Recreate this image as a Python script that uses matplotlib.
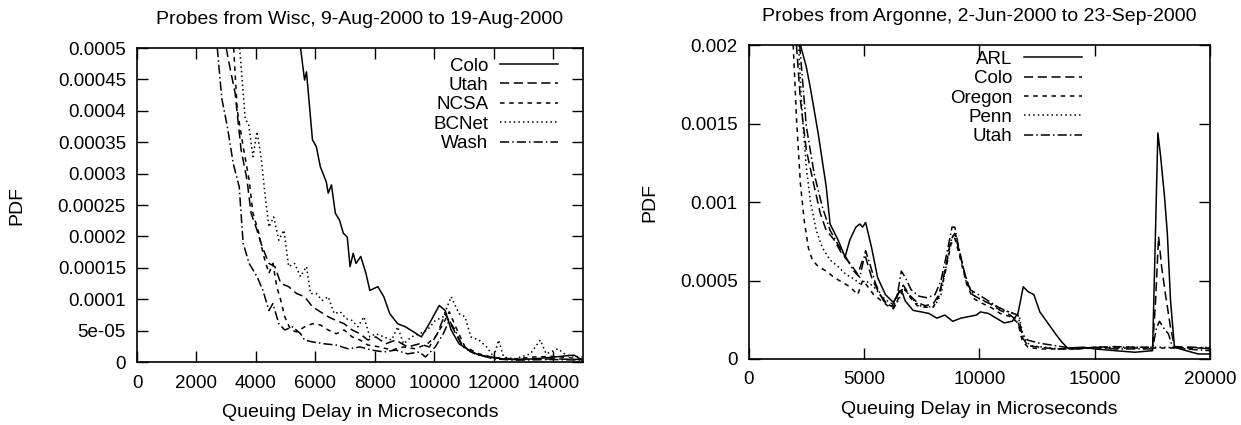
import matplotlib
matplotlib.use("Agg")
import matplotlib.pyplot as plt

plt.rcParams['font.family'] = ['Liberation Sans', 'DejaVu Sans']

# ---- left panel: probes from Wisc ----
wisc_colo_x = [5500, 5635, 5700, 5900, 6030, 6165, 6365, 6430, 6540, 6670, 6810, 6940, 7070, 7165,
               7270, 7365, 7525, 7700, 7830, 8100, 8300, 8500, 8765, 9030, 9300, 9565, 9830, 10165,
               10365, 10565, 10830, 11160, 11500, 11900, 12300, 12700, 13360, 14030, 14700, 14960]
wisc_colo_y = [0.0005, 0.000449, 0.000462, 0.000354, 0.000343, 0.000311, 0.000287, 0.000269, 0.000282,
               0.000237, 0.000226, 0.000205, 0.000199, 0.000152, 0.000173, 0.000157, 0.000168, 0.000141,
               0.000114, 0.000120, 0.000104, 0.000077, 0.000061, 0.000056, 0.000048, 0.000040, 0.000061,
               0.000090, 0.000082, 0.000051, 0.000029, 0.000019, 0.000011, 0.000008, 0.000005, 0.000004,
               0.000005, 0.000008, 0.000011, 0.000003]

wisc_utah_x = [3000, 3100, 3300, 3500, 3700, 3836, 4036, 4170, 4300, 4436, 4636, 4836, 5100, 5370,
               5635, 5900, 6165, 6430, 6700, 6965, 7235, 7500, 7765, 8030, 8365, 8700, 9100, 9500,
               9830, 10100, 10365, 10630, 10900, 11230, 11760, 12700, 14030, 14960]
wisc_utah_y = [0.0005, 0.000475, 0.000428, 0.000338, 0.00029, 0.000237, 0.00021, 0.000189, 0.000173,
               0.000157, 0.000152, 0.000125, 0.00012, 0.000109, 0.000104, 0.000088, 0.00008, 0.000072,
               0.000066, 0.000061, 0.000051, 0.000045, 0.000035, 0.00004, 0.000029, 0.000035, 0.000024,
               0.000029, 0.000024, 0.000045, 0.000077, 0.000053, 0.000029, 0.000016, 0.000008, 0.000004,
               0.000005, 0.000004]

wisc_ncsa_x = [3250, 3370, 3570, 3770, 3900, 4100, 4236, 4436, 4570, 4700, 4836, 4970, 5170, 5370,
               5635, 5900, 6165, 6430, 6700, 6965, 7235, 7500, 7765, 8165, 8565, 8965, 9365, 9765,
               10030, 10300, 10500, 10765, 11030, 11500, 12000, 12700, 13360, 14030, 14960]
wisc_ncsa_y = [0.0005, 0.000402, 0.000343, 0.00029, 0.000237, 0.000205, 0.000173, 0.000141, 0.000157,
               0.00012, 0.000098, 0.000072, 0.000051, 0.000048, 0.000056, 0.000061, 0.000059, 0.000051,
               0.000045, 0.000051, 0.00004, 0.000035, 0.000027, 0.000024, 0.000019, 0.000024, 0.000021,
               0.000029, 0.00004, 0.000061, 0.00008, 0.000051, 0.000024, 0.000013, 0.000007, 0.000005,
               0.000008, 0.000009, 0.000005]

wisc_bcnet_x = [3450, 3520, 3640, 3750, 3900, 4036, 4170, 4300, 4436, 4596, 4770, 4940, 5100, 5300,
                5500, 5700, 5835, 6030, 6230, 6430, 6630, 6835, 7035, 7235, 7430, 7630, 7830, 8030,
                8300, 8565, 8765, 8965, 9230, 9500, 9765, 10030, 10300, 10565, 10830, 11030, 11230,
                11500, 11760, 12000, 12160, 12330, 12700, 13230, 13560, 13760, 14160, 14430, 14960]
wisc_bcnet_y = [0.0005, 0.00046, 0.000386, 0.00038, 0.000327, 0.000367, 0.000327, 0.000269, 0.000215,
                0.000231, 0.000194, 0.00021, 0.000152, 0.000157, 0.000136, 0.000152, 0.000109, 0.000109,
                0.000098, 0.000104, 0.000077, 0.00008, 0.000069, 0.000066, 0.000056, 0.000072, 0.00004,
                0.000045, 0.00004, 0.000035, 0.000056, 0.000029, 0.00004, 0.000045, 0.000051, 0.000066,
                0.000072, 0.000104, 0.000077, 0.000072, 0.00004, 0.000035, 0.000024, 0.000008, 0.000035,
                0.000008, 0.000005, 0.000013, 0.000035, 0.000013, 0.000021, 0.000011, 0.000008]

wisc_wash_x = [2700, 2850, 3037, 3237, 3437, 3570, 3770, 4036, 4236, 4436, 4570, 4770, 4970, 5235,
               5500, 5635, 5900, 6300, 6700, 7100, 7500, 7900, 8300, 8700, 9100, 9500, 9700, 10030,
               10300, 10500, 10700, 10960, 11360, 12000, 12700, 14030, 14960]
wisc_wash_y = [0.0005, 0.00042, 0.000375, 0.000316, 0.000279, 0.000189, 0.000157, 0.000136, 0.000114,
               0.000082, 0.000093, 0.000061, 0.000051, 0.000056, 0.000045, 0.000035, 0.000032, 0.000029,
               0.000027, 0.000021, 0.000024, 0.000019, 0.000016, 0.000019, 0.000013, 0.000016, 0.000008,
               0.000024, 0.000045, 0.000066, 0.000051, 0.000024, 0.000013, 0.000005, 0.000003, 0.000004,
               0.000003]

wisc_labels = ['Colo', 'Utah', 'NCSA', 'BCNet', 'Wash']
wisc_xticks = [0, 2000, 4000, 6000, 8000, 10000, 12000, 14000]
wisc_yticks = [0, 0.00005, 0.0001, 0.00015, 0.0002, 0.00025, 0.0003, 0.00035, 0.0004, 0.00045, 0.0005]
wisc_ytick_labels = ['0', '5e-05', '0.0001', '0.00015', '0.0002', '0.00025', '0.0003', '0.00035',
                     '0.0004', '0.00045', '0.0005']

# ---- right panel: probes from Argonne ----
arg_arl_x = [2232, 2490, 2660, 3000, 3350, 3520, 3860, 4170, 4380, 4640, 4810, 4930, 5060, 5320,
             5580, 5920, 6270, 6440, 6610, 6780, 7120, 7470, 7810, 8150, 8500, 8840, 9190, 9530,
             9870, 10040, 10390, 10730, 11070, 11420, 11670, 11900, 12100, 12360, 12620, 12960,
             13300, 13560, 13820, 14500, 15020, 15880, 16740, 17510, 17600, 17740, 17860, 18030,
             18150, 18290, 18460, 18970, 19490, 20000]
arg_arl_y = [0.002, 0.00186, 0.00173, 0.00144, 0.0011, 0.00086, 0.00076, 0.00065, 0.00076, 0.00084,
             0.00086, 0.00084, 0.00087, 0.00071, 0.00052, 0.00041, 0.00036, 0.00041, 0.00044, 0.00037,
             0.00031, 0.0003, 0.00029, 0.00026, 0.00028, 0.00024, 0.00026, 0.00027, 0.00028, 0.0003,
             0.00029, 0.00026, 0.00023, 0.00024, 0.00029, 0.00046, 0.00043, 0.00041, 0.0003, 0.00023,
             0.00016, 0.00011, 0.00007, 0.000075, 0.000064, 0.000053, 0.000043, 0.000053, 0.00059,
             0.00144, 0.00129, 0.00103, 0.0008, 0.00037, 0.000075, 0.000053, 0.000032, 0.000032]

arg_colo_x = [2060, 2232, 2490, 2830, 3090, 3350, 3690, 4030, 4380, 4720, 4930, 5060, 5320, 5670,
              6010, 6270, 6530, 6700, 6950, 7300, 7640, 7990, 8240, 8500, 8760, 8930, 9150, 9440,
              9700, 10040, 10480, 10900, 11330, 11670, 11850, 12100, 12620, 13300, 14160, 15020,
              15880, 16740, 17510, 17640, 17770, 17900, 18070, 18290, 18460, 19310, 20000]
arg_colo_y = [0.002, 0.00165, 0.00133, 0.0011, 0.00093, 0.00082, 0.00076, 0.00067, 0.00061, 0.00054,
              0.00063, 0.00065, 0.00052, 0.00041, 0.00035, 0.00033, 0.00044, 0.00047, 0.00041, 0.00036,
              0.00034, 0.00035, 0.00041, 0.00056, 0.00076, 0.0008, 0.00067, 0.0005, 0.00041, 0.00038,
              0.00035, 0.00031, 0.00028, 0.00024, 0.00014, 0.000085, 0.000075, 0.000064, 0.000064,
              0.000075, 0.000079, 0.000075, 0.000075, 0.00037, 0.00078, 0.00059, 0.00041, 0.0002,
              0.000079, 0.000075, 0.000064]

arg_oregon_x = [1920, 2060, 2230, 2400, 2575, 2750, 3000, 3350, 3690, 4030, 4380, 4720, 4930, 5060,
                5410, 5750, 6100, 6270, 6530, 6700, 6950, 7300, 7640, 7990, 8240, 8500, 8760, 8930,
                9150, 9440, 9700, 10040, 10480, 10900, 11330, 11670, 11850, 12100, 12620, 13300,
                14160, 15020, 16740, 17600, 18460, 20000]
arg_oregon_y = [0.002, 0.00154, 0.00112, 0.00088, 0.00071, 0.00063, 0.00059, 0.00056, 0.00052, 0.00049,
                0.00046, 0.00041, 0.0005, 0.00048, 0.00041, 0.00037, 0.00033, 0.00032, 0.0004, 0.00046,
                0.0004, 0.00034, 0.00033, 0.00033, 0.0004, 0.00054, 0.00073, 0.00077, 0.00065, 0.00048,
                0.00039, 0.00036, 0.00033, 0.00029, 0.00027, 0.00023, 0.00012, 0.000075, 0.000064,
                0.000064, 0.000064, 0.00007, 0.00007, 0.00007, 0.00007, 0.00007]

arg_penn_x = [2150, 2320, 2490, 2660, 2920, 3180, 3520, 3860, 4200, 4550, 4810, 5060, 5410, 5750,
              6100, 6350, 6610, 6780, 7040, 7380, 7730, 8070, 8330, 8580, 8810, 8980, 9190, 9440,
              9790, 10220, 10650, 11070, 11500, 11730, 11900, 12190, 12790, 13480, 14330, 15190,
              16050, 17080, 17940, 18800, 20000]
arg_penn_y = [0.002, 0.00154, 0.00122, 0.00101, 0.00082, 0.00071, 0.00063, 0.00059, 0.00054, 0.00051,
              0.00048, 0.0005, 0.00046, 0.0004, 0.00036, 0.00034, 0.00041, 0.00044, 0.00039, 0.00034,
              0.00033, 0.00034, 0.00041, 0.00061, 0.00078, 0.00079, 0.00065, 0.00048, 0.0004, 0.00037,
              0.00034, 0.00031, 0.00029, 0.00027, 0.00014, 0.000085, 0.000075, 0.000064, 0.00007,
              0.000075, 0.000075, 0.000075, 0.000075, 0.00007, 0.000075]

arg_utah_x = [2200, 2490, 2830, 3180, 3520, 3860, 4200, 4550, 4810, 5060, 5240, 5490, 5840, 6180,
              6440, 6610, 6780, 7040, 7380, 7730, 8070, 8330, 8580, 8810, 8930, 9100, 9360, 9610,
              9960, 10390, 10820, 11250, 11670, 11850, 12100, 12620, 13300, 14160, 15020, 15880,
              16740, 17510, 17680, 17810, 17980, 18200, 18370, 18970, 20000]
arg_utah_y = [0.002, 0.00148, 0.00118, 0.00097, 0.00082, 0.00073, 0.00065, 0.00056, 0.00052, 0.00069,
              0.00061, 0.00048, 0.00037, 0.00033, 0.00041, 0.00056, 0.00052, 0.00044, 0.0004, 0.00039,
              0.00041, 0.0005, 0.00067, 0.00084, 0.00084, 0.00071, 0.00054, 0.00044, 0.00041, 0.00037,
              0.00033, 0.0003, 0.00028, 0.00016, 0.00012, 0.0001, 0.000085, 0.000064, 0.000075,
              0.000064, 0.000064, 0.000064, 0.0002, 0.00024, 0.0002, 0.00016, 0.000075, 0.000064,
              0.000053]

arg_labels = ['ARL', 'Colo', 'Oregon', 'Penn', 'Utah']
arg_xticks = [0, 5000, 10000, 15000, 20000]
arg_yticks = [0, 0.0005, 0.001, 0.0015, 0.002]
arg_ytick_labels = ['0', '0.0005', '0.001', '0.0015', '0.002']

styles = ['-', (0, (6, 3)), (0, (3, 3)), (0, (1, 2)), (0, (6, 2, 1, 2))]


def style_axes(ax, title, xlim, ylim, xticks, yticks, ylabels, ylab_x, leg_anchor):
    ax.set_xlim(*xlim)
    ax.set_ylim(*ylim)
    ax.set_xticks(xticks)
    ax.set_xticklabels([str(t) for t in xticks])
    ax.set_yticks(yticks)
    ax.set_yticklabels(ylabels)
    ax.tick_params(axis='x', pad=9)
    ax.tick_params(axis='y', pad=8)
    ax.tick_params(direction='in', length=8, width=1, top=True, right=True,
                   labelsize=13.5, colors='black')
    ax.set_title(title, fontsize=14, pad=17)
    ax.set_xlabel('Queuing Delay in Microseconds', fontsize=14, labelpad=9)
    ax.set_ylabel('PDF', fontsize=14)
    ax.yaxis.set_label_coords(ylab_x, 0.5)
    for sp in ax.spines.values():
        sp.set_linewidth(1.2)
    ax.legend(loc='upper right', bbox_to_anchor=leg_anchor, markerfirst=False, frameon=False,
              fontsize=13.5, handlelength=3.1, labelspacing=0.12, handletextpad=0.6,
              borderaxespad=0, borderpad=0)


fig = plt.figure(figsize=(12.41, 4.25), dpi=100)

ax1 = fig.add_axes([0.1104, 0.1482, 0.3594, 0.7388])
wisc = [(wisc_colo_x, wisc_colo_y), (wisc_utah_x, wisc_utah_y), (wisc_ncsa_x, wisc_ncsa_y),
        (wisc_bcnet_x, wisc_bcnet_y), (wisc_wash_x, wisc_wash_y)]
for (xs, ys), lab, ls in zip(wisc, wisc_labels, styles):
    ax1.plot(xs, ys, color='black', linestyle=ls, linewidth=1.1, label=lab)
style_axes(ax1, 'Probes from Wisc, 9-Aug-2000 to 19-Aug-2000', (0, 15000), (0, 0.0005),
           wisc_xticks, wisc_yticks, wisc_ytick_labels, -0.251, (0.944, 0.970))

ax2 = fig.add_axes([0.6035, 0.1553, 0.3715, 0.7388])
arg = [(arg_arl_x, arg_arl_y), (arg_colo_x, arg_colo_y), (arg_oregon_x, arg_oregon_y),
       (arg_penn_x, arg_penn_y), (arg_utah_x, arg_utah_y)]
for (xs, ys), lab, ls in zip(arg, arg_labels, styles):
    ax2.plot(xs, ys, color='black', linestyle=ls, linewidth=1.1, label=lab)
style_axes(ax2, 'Probes from Argonne, 2-Jun-2000 to 23-Sep-2000', (0, 20000), (0, 0.002),
           arg_xticks, arg_yticks, arg_ytick_labels, -0.197, (0.722, 0.982))

fig.savefig('out.png', dpi=100)
